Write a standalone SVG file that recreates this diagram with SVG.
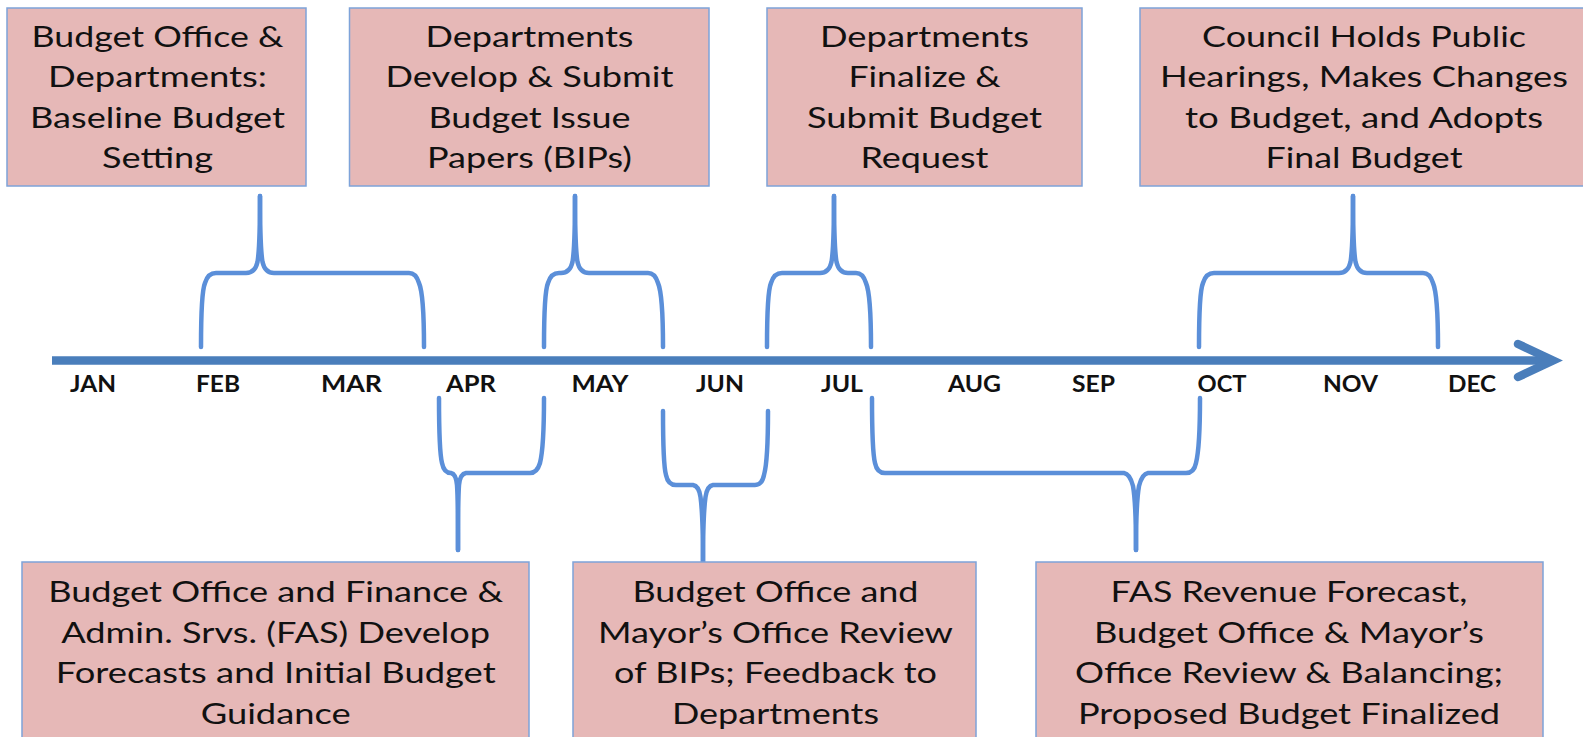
<svg xmlns="http://www.w3.org/2000/svg" width="1583" height="737" viewBox="0 0 1583 737">
  <style>
    .box { fill: #e6b8b7; stroke: #7ea3d9; stroke-width: 1.5; }
    .lbl { font-family: Lato, "Open Sans", "Liberation Sans", sans-serif; font-size: 29px; fill: #111; text-anchor: middle; }
    .mon { font-family: Lato, "Liberation Sans", sans-serif; font-size: 22px; font-weight: bold; fill: #111; text-anchor: middle; }
    .brace { fill: none; stroke: #5b8fd9; stroke-width: 4.5; stroke-linecap: round; stroke-linejoin: round; }
    .axis { fill: none; stroke: #4a7ebb; stroke-width: 8.5; }
  </style>
  <rect width="1583" height="737" fill="#ffffff"/>

  <!-- timeline axis -->
  <g id="timeline">
    <path class="axis" d="M52,360.5 L1550,360.5"/>
    <path class="axis" d="M1518,344 L1553,360.5 L1518,377" stroke-linecap="round" stroke-linejoin="miter"/>
    <text class="mon" x="93" y="391.5" textLength="46" lengthAdjust="spacingAndGlyphs">JAN</text>
    <text class="mon" x="218" y="391.5" textLength="44" lengthAdjust="spacingAndGlyphs">FEB</text>
    <text class="mon" x="351.5" y="391.5" textLength="61" lengthAdjust="spacingAndGlyphs">MAR</text>
    <text class="mon" x="471" y="391.5" textLength="50" lengthAdjust="spacingAndGlyphs">APR</text>
    <text class="mon" x="600" y="391.5" textLength="57" lengthAdjust="spacingAndGlyphs">MAY</text>
    <text class="mon" x="720" y="391.5" textLength="48" lengthAdjust="spacingAndGlyphs">JUN</text>
    <text class="mon" x="842" y="391.5" textLength="42" lengthAdjust="spacingAndGlyphs">JUL</text>
    <text class="mon" x="974.5" y="391.5" textLength="53" lengthAdjust="spacingAndGlyphs">AUG</text>
    <text class="mon" x="1093.5" y="391.5" textLength="43" lengthAdjust="spacingAndGlyphs">SEP</text>
    <text class="mon" x="1222" y="391.5" textLength="49" lengthAdjust="spacingAndGlyphs">OCT</text>
    <text class="mon" x="1350.5" y="391.5" textLength="55" lengthAdjust="spacingAndGlyphs">NOV</text>
    <text class="mon" x="1472" y="391.5" textLength="48" lengthAdjust="spacingAndGlyphs">DEC</text>
  </g>

  <!-- curly braces linking each phase to its month span -->
  <g id="connectors">
    <path class="brace" d="M201,347 C201,312 202,290 205,283 Q208,273 216,273 L246,273 Q255,273 257.5,262 C259.5,250 260,232 260,196"/>
    <path class="brace" d="M260,196 C260,232 260.5,250 262.5,262 Q265,273 274,273 L409,273 Q416,273 419,283 C422,290 424,312 424,347"/>

    <path class="brace" d="M544,347 C544,312 545,290 548,283 Q551,273 559,273 L561,273 Q570,273 572.5,262 C574.5,250 575,232 575,196"/>
    <path class="brace" d="M575,196 C575,232 575.5,250 577.5,262 Q580,273 589,273 L648,273 Q655,273 658,283 C661,290 663,312 663,347"/>

    <path class="brace" d="M767,347 C767,312 768,290 771,283 Q774,273 782,273 L820,273 Q829,273 831.5,262 C833.5,250 834,232 834,196"/>
    <path class="brace" d="M834,196 C834,232 834.5,250 836.5,262 Q839,273 848,273 L856,273 Q863,273 866,283 C869,290 871,312 871,347"/>

    <path class="brace" d="M1199,347 C1199,312 1200,290 1203,283 Q1206,273 1214,273 L1339,273 Q1348,273 1350.5,262 C1352.5,250 1353,232 1353,196"/>
    <path class="brace" d="M1353,196 C1353,232 1353.5,250 1355.5,262 Q1358,273 1367,273 L1423,273 Q1430,273 1433,283 C1436,290 1438,312 1438,347"/>

    <path class="brace" d="M439,398 C439,433 440,455 442,463 Q444,473 451,473 Q456,474 457,485 C457.8,495 458,505 458,550"/>
    <path class="brace" d="M458,550 C458,505 458.2,495 459,485 Q460,474 466,473 L530,473 Q537,473 540,463 C542,455 544,433 544,398"/>

    <path class="brace" d="M663,411 C663,446 664,468 666,475 Q668,485 676,485 L693,485 Q699,486 700.5,497 C702,508 703,520 703,562"/>
    <path class="brace" d="M703,562 C703,520 704,508 705.5,497 Q707,486 713,485 L755,485 Q762,485 764,475 C766,468 768,446 768,411"/>

    <path class="brace" d="M872,398 C872,433 873,455 875,463 Q877,473 885,473 L1124,473 Q1130,474 1133,486 C1135,497 1136,510 1136,550"/>
    <path class="brace" d="M1136,550 C1136,510 1137,497 1139,486 Q1142,474 1148,473 L1186,473 Q1194,473 1196,463 C1198,455 1200,433 1200,398"/>
  </g>

  <!-- phases above the timeline -->
  <g id="baseline-setting">
    <rect class="box" x="7" y="8" width="299" height="178"/>
    <text class="lbl" x="157.5" y="46.7" textLength="252" lengthAdjust="spacingAndGlyphs">Budget Office &amp;</text>
    <text class="lbl" x="157.5" y="87.3" textLength="219" lengthAdjust="spacingAndGlyphs">Departments:</text>
    <text class="lbl" x="157.5" y="128.3" textLength="255" lengthAdjust="spacingAndGlyphs">Baseline Budget</text>
    <text class="lbl" x="157.5" y="168.3" textLength="111" lengthAdjust="spacingAndGlyphs">Setting</text>
  </g>
  <g id="bip-submission">
    <rect class="box" x="349.5" y="8" width="359.5" height="178"/>
    <text class="lbl" x="529.5" y="46.7" textLength="208" lengthAdjust="spacingAndGlyphs">Departments</text>
    <text class="lbl" x="529.5" y="87.3" textLength="288" lengthAdjust="spacingAndGlyphs">Develop &amp; Submit</text>
    <text class="lbl" x="529.5" y="128.3" textLength="202" lengthAdjust="spacingAndGlyphs">Budget Issue</text>
    <text class="lbl" x="529.5" y="168.3" textLength="205" lengthAdjust="spacingAndGlyphs">Papers (BIPs)</text>
  </g>
  <g id="budget-request">
    <rect class="box" x="767" y="8" width="315" height="178"/>
    <text class="lbl" x="924.5" y="46.7" textLength="209" lengthAdjust="spacingAndGlyphs">Departments</text>
    <text class="lbl" x="924.5" y="87.3" textLength="152" lengthAdjust="spacingAndGlyphs">Finalize &amp;</text>
    <text class="lbl" x="924.5" y="128.3" textLength="235" lengthAdjust="spacingAndGlyphs">Submit Budget</text>
    <text class="lbl" x="924.5" y="168.3" textLength="128" lengthAdjust="spacingAndGlyphs">Request</text>
  </g>
  <g id="council-adoption">
    <rect class="box" x="1140" y="8" width="450" height="178"/>
    <text class="lbl" x="1364" y="46.7" textLength="324" lengthAdjust="spacingAndGlyphs">Council Holds Public</text>
    <text class="lbl" x="1364" y="87.3" textLength="408" lengthAdjust="spacingAndGlyphs">Hearings, Makes Changes</text>
    <text class="lbl" x="1364" y="128.3" textLength="358" lengthAdjust="spacingAndGlyphs">to Budget, and Adopts</text>
    <text class="lbl" x="1364" y="168.3" textLength="197" lengthAdjust="spacingAndGlyphs">Final Budget</text>
  </g>

  <!-- phases below the timeline -->
  <g id="forecasts-guidance">
    <rect class="box" x="22" y="562" width="507" height="190"/>
    <text class="lbl" x="275.7" y="602" textLength="455" lengthAdjust="spacingAndGlyphs">Budget Office and Finance &amp;</text>
    <text class="lbl" x="275.7" y="642.5" textLength="429" lengthAdjust="spacingAndGlyphs">Admin. Srvs. (FAS) Develop</text>
    <text class="lbl" x="275.7" y="683" textLength="440" lengthAdjust="spacingAndGlyphs">Forecasts and Initial Budget</text>
    <text class="lbl" x="275.7" y="724" textLength="150" lengthAdjust="spacingAndGlyphs">Guidance</text>
  </g>
  <g id="bip-review">
    <rect class="box" x="573" y="562" width="403" height="190"/>
    <text class="lbl" x="775.5" y="602" textLength="286" lengthAdjust="spacingAndGlyphs">Budget Office and</text>
    <text class="lbl" x="775.5" y="642.5" textLength="355" lengthAdjust="spacingAndGlyphs">Mayor’s Office Review</text>
    <text class="lbl" x="775.5" y="683" textLength="323" lengthAdjust="spacingAndGlyphs">of BIPs; Feedback to</text>
    <text class="lbl" x="775.5" y="724" textLength="207" lengthAdjust="spacingAndGlyphs">Departments</text>
  </g>
  <g id="proposed-budget">
    <rect class="box" x="1036" y="562" width="507" height="190"/>
    <text class="lbl" x="1289" y="602" textLength="357" lengthAdjust="spacingAndGlyphs">FAS Revenue Forecast,</text>
    <text class="lbl" x="1289" y="642.5" textLength="390" lengthAdjust="spacingAndGlyphs">Budget Office &amp; Mayor’s</text>
    <text class="lbl" x="1289" y="683" textLength="428" lengthAdjust="spacingAndGlyphs">Office Review &amp; Balancing;</text>
    <text class="lbl" x="1289" y="724" textLength="422" lengthAdjust="spacingAndGlyphs">Proposed Budget Finalized</text>
  </g>
</svg>
